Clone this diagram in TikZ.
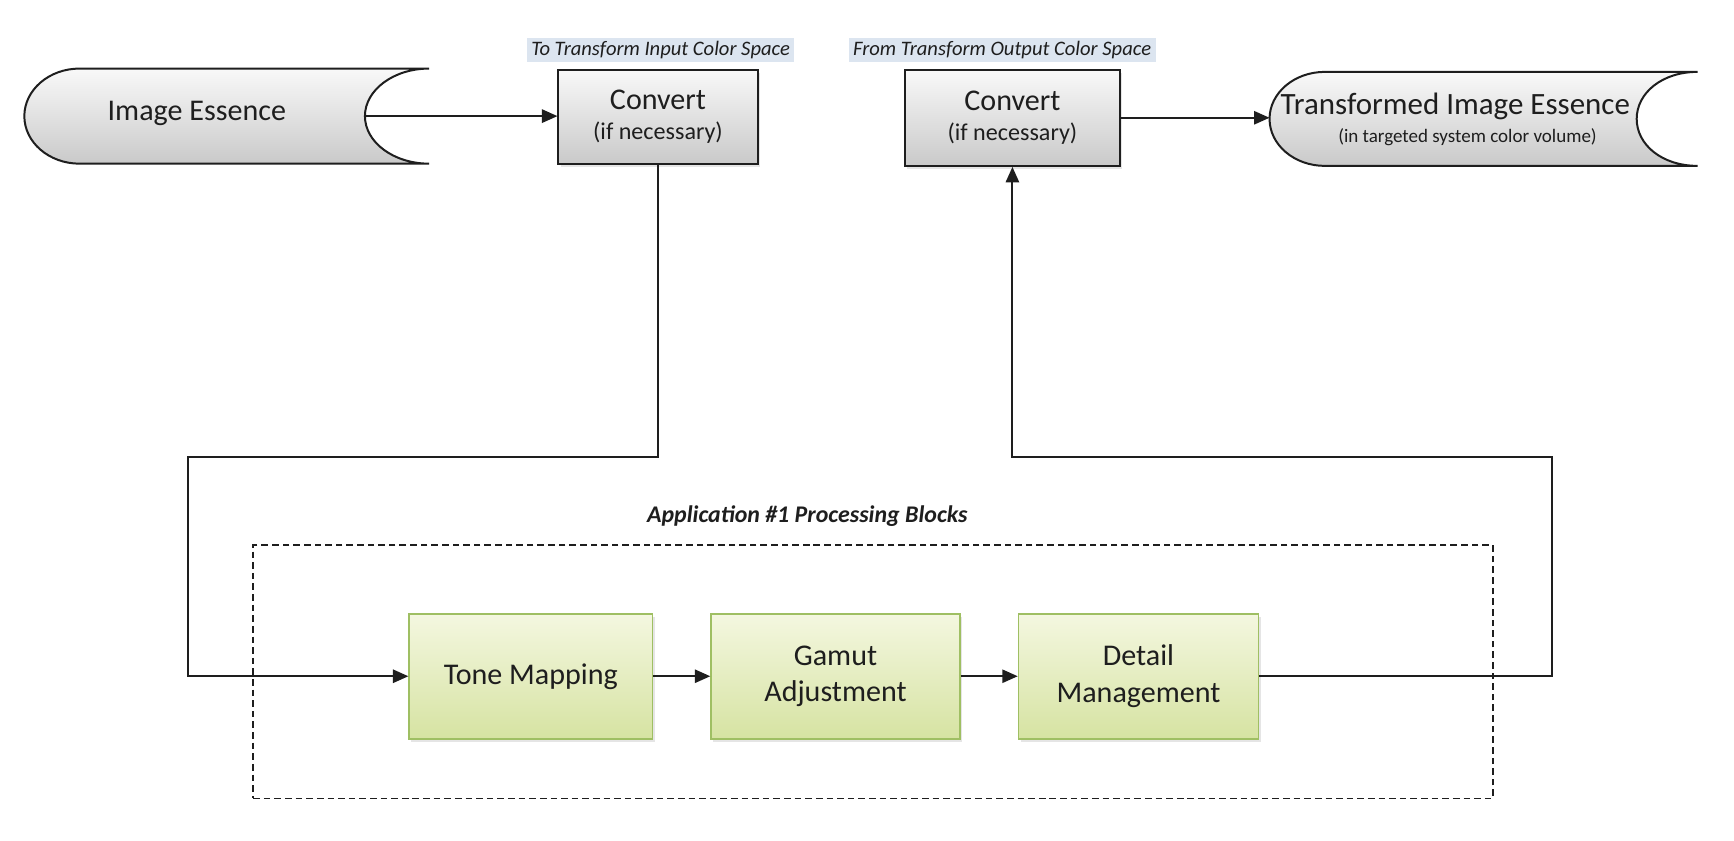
\documentclass[tikz,border=0pt]{standalone}
\usepackage{fontspec}
\setmainfont{Carlito}
\usetikzlibrary{arrows.meta,shadows}
\definecolor{gtop}{HTML}{F4F7E0}
\definecolor{gbot}{HTML}{D6E3A2}
\definecolor{gedge}{HTML}{9FBF63}
\definecolor{lblue}{HTML}{DCE5F0}
\definecolor{ink}{HTML}{1E1E1E}
\newcommand{\mainsz}{\fontsize{13.6}{16.5}\selectfont}
\newcommand{\subsz}{\fontsize{10.9}{13}\selectfont}
\tikzset{
  conn/.style={line width=0.9pt, draw=ink},
  arr/.style={conn, -{Triangle[length=7pt,width=6pt]}},
  graybox/.style={draw=ink, line width=0.9pt, top color=gray!5, bottom color=gray!42,
    align=center, inner sep=0pt, text=ink, drop shadow={opacity=0.2,shadow xshift=1pt,shadow yshift=-1.5pt}},
  greenbox/.style={draw=gedge, line width=0.7pt, top color=gtop, bottom color=gbot,
    align=center, inner sep=0pt, text=ink, font=\mainsz, minimum height=56.5pt,
    drop shadow={opacity=0.2,shadow xshift=1pt,shadow yshift=-1.5pt}},
  toplabel/.style={fill=lblue, inner xsep=2pt, inner ysep=1.5pt, text=ink,
    font=\fontsize{9.3}{11}\selectfont\itshape},
  essence/.style={draw=ink, line width=0.9pt, top color=gray!5, bottom color=gray!42},
  plain/.style={inner sep=0pt, align=center, text=ink}
}
\begin{document}
\begin{tikzpicture}[x=0.5pt,y=-0.5pt]
\useasboundingbox[fill=white] (0,0) rectangle (1568,760);

% Image Essence shape
\path[essence] (388,62) -- (72,62) .. controls (44.4,62) and (22,81.3) .. (22,105)
  .. controls (22,128.7) and (44.4,148) .. (72,148) -- (388,148)
  .. controls (356,148) and (330,128.7) .. (330,105)
  .. controls (330,81.3) and (356,62) .. (388,62) -- cycle;
\node[plain, font=\mainsz] (ie) at (178,103) {Image Essence};
\coordinate (iein) at (330,105);

% Transformed Image Essence shape
\path[essence] (1535,65) -- (1198,65) .. controls (1170.4,65) and (1148,84) .. (1148,107.5)
  .. controls (1148,131) and (1170.4,150) .. (1198,150) -- (1535,150)
  .. controls (1503,150) and (1480,131) .. (1480,107.5)
  .. controls (1480,84) and (1503,65) .. (1535,65) -- cycle;
\node[plain, font=\fontsize{14}{16}\selectfont] (te) at (1316,96) {Transformed Image Essence};
\node[plain, font=\fontsize{8.6}{10}\selectfont] (tesub) at (1327,124) {(in targeted system color volume)};
\coordinate (tein) at (1148,106);

% Convert boxes
\node[graybox, minimum width=90pt, minimum height=42.5pt] (c1) at (595,105.5)
  {{\mainsz Convert}\\[1.5pt]{\subsz (if necessary)}};
\node[graybox, minimum width=97.5pt, minimum height=43.5pt] (c2) at (915.5,106.5)
  {{\mainsz Convert}\\[1.5pt]{\subsz (if necessary)}};

% Top labels
\node[toplabel, anchor=west] (l1) at (476,45) {To Transform Input Color Space};
\node[toplabel, anchor=west, inner xsep=2pt] (l2) at (767,45) {From Transform Output Color Space\hspace{10pt}};

% Group
\node[draw=ink, dashed, dash pattern=on 3pt off 1.8pt, line width=0.7pt,
  minimum width=560.5pt, minimum height=114.5pt, inner sep=0pt] (grp) at (789.5,607.5) {};
\node[plain, font=\fontsize{10.8}{12}\selectfont\bfseries\itshape] (grplbl) at (730,467)
  {Application \#1 Processing Blocks};

% Processing blocks
\node[greenbox, minimum width=110pt] (tm) at (480,611.5) {Tone Mapping};
\node[greenbox, minimum width=112.5pt] (ga) at (755.5,611.5) {Gamut\\Adjustment};
\node[greenbox, minimum width=108.5pt] (dm) at (1029.5,611.5) {Detail\\Management};

% Connectors
\coordinate (j1) at (170,413);
\coordinate (j2) at (1403,413);
\draw[arr] (iein) -- (iein -| c1.west);
\draw[arr] (c2.east) -- (c2.east -| tein);
\draw[arr] (c1.south) -- (c1.south |- j1) -- (j1) -- (j1 |- tm.west) -- (tm.west);
\draw[arr] (tm.east) -- (ga.west);
\draw[arr] (ga.east) -- (dm.west);
\draw[arr] (dm.east) -- (dm.east -| j2) -- (j2) -- (j2 -| c2.south) -- (c2.south);
\end{tikzpicture}
\end{document}
